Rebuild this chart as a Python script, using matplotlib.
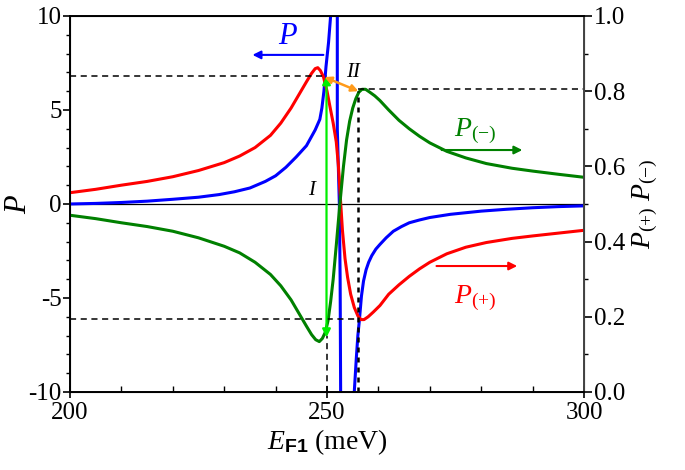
import numpy as np
import matplotlib.pyplot as plt
from matplotlib.ticker import MultipleLocator, FuncFormatter

plt.rcParams['font.family'] = ['Liberation Serif', 'DejaVu Serif']
plt.rcParams['mathtext.fontset'] = 'custom'
plt.rcParams['mathtext.rm'] = 'Liberation Serif'
plt.rcParams['mathtext.it'] = 'Liberation Serif:italic'
plt.rcParams['mathtext.sf'] = 'Liberation Sans:bold'

# P (left axis); values beyond +-10 are clipped by the axes
p_x = [200, 205, 210, 215, 220, 225, 229, 232, 235, 238, 240, 242, 244, 246, 247.7,
       248.6, 249.0, 249.4, 249.8, 250.3, 250.7, 250.9,
       251.9, 252.0, 252.0, 252.4, 252.55, 252.65, 252.7,
       255.1, 255.3, 255.7, 256.0, 256.3, 256.7, 257.1, 257.6, 258.1, 258.7, 259.5,
       260.3, 261.5, 262.9, 264.5, 266, 268, 270, 274, 280, 285, 290, 295, 300]
p_y = [0.0, 0.03, 0.08, 0.15, 0.25, 0.36, 0.5, 0.65, 0.85, 1.2, 1.5, 1.95, 2.5, 3.1, 3.94,
       4.5, 5.1, 6.0, 7.3, 8.6, 10.0, 12,
       12, 10.0, 4.0, 0.0, -4.0, -10.0, -12,
       -12, -10.0, -8.2, -7.0, -6.17, -4.9, -4.1, -3.5, -3.1, -2.75, -2.4,
       -2.15, -1.8, -1.45, -1.2, -1.0, -0.85, -0.72, -0.55, -0.38, -0.28, -0.2, -0.14, -0.1]

# P(+) (right axis)
pp_x = [200, 205, 210, 215, 220, 225, 230, 233, 236, 239, 241, 243, 244.5, 246, 247,
        247.7, 248.2, 248.7, 249.3, 250.0, 250.6, 251.2, 251.8, 252.2, 252.6, 253.0,
        253.5, 254.0, 254.6, 255.3, 256.0, 256.6, 257.2, 258.0, 259.0, 260.3, 262, 264,
        266, 268, 270, 273.3, 277, 281, 286, 290, 295, 300]
pp_y = [0.530, 0.539, 0.550, 0.560, 0.5725, 0.589, 0.610, 0.6275, 0.650, 0.6825, 0.715,
        0.755, 0.790, 0.825, 0.8475, 0.860, 0.8625, 0.855, 0.8385, 0.800, 0.757, 0.715,
        0.665, 0.605, 0.515, 0.430, 0.355, 0.305, 0.260, 0.225, 0.2025, 0.1925, 0.1925,
        0.200, 0.2125, 0.230, 0.260, 0.285, 0.3075, 0.3275, 0.345, 0.3675, 0.385, 0.3975,
        0.4085, 0.415, 0.4225, 0.430]

# P(-) (right axis)
pm_x = [200, 205, 210, 215, 220, 225, 230, 233, 236, 239, 241, 243, 244.5, 246, 247,
        247.8, 248.5, 249.1, 249.7, 250.2, 250.7, 251.2, 251.8, 252.5, 253.2, 253.8,
        254.4, 255.0, 255.6, 256.2, 256.8, 257.5, 258.3, 259.3, 260.3, 262, 264, 266,
        268, 270, 273.3, 277, 281, 286, 290, 295, 300]
pm_y = [0.470, 0.461, 0.450, 0.440, 0.4275, 0.410, 0.3875, 0.370, 0.345, 0.3125, 0.2825,
        0.245, 0.210, 0.175, 0.1525, 0.139, 0.134, 0.1425, 0.160, 0.190, 0.240, 0.300,
        0.390, 0.500, 0.600, 0.670, 0.720, 0.755, 0.780, 0.7975, 0.805, 0.805, 0.7975,
        0.7875, 0.775, 0.750, 0.7225, 0.700, 0.680, 0.6625, 0.640, 0.6225, 0.6075, 0.595,
        0.5875, 0.579, 0.571]

fig = plt.figure(figsize=(6.85, 4.7), dpi=100)
ax = fig.add_axes([0.1022, 0.166, 0.7504, 0.8])
ax2 = ax.twinx()

ax.axhline(0, color='black', lw=0.9, zorder=1)
ax.plot(p_x, p_y, color='#0000ff', lw=2.2, zorder=3, solid_joinstyle='round')
ax2.plot(pp_x, pp_y, color='#ff0000', lw=2.2, solid_joinstyle='round')
ax2.plot(pm_x, pm_y, color='#008000', lw=2.2, solid_joinstyle='round')

ax.set_xlim(200, 300)
ax.set_ylim(-10, 10)
ax2.set_ylim(0, 1.0)

# guide lines (left-axis units)
dkw = dict(color='black', lw=1.1, ls=(0, (4, 3)), transform=ax.transData, zorder=2)
ax2.plot([200, 249.9], [6.8, 6.8], **dkw)
ax2.plot([200, 256.1], [-6.1, -6.1], **dkw)
ax2.plot([256.1, 300], [6.1, 6.1], **dkw)
ax2.plot([249.9, 249.9], [-10, -7.0], **dkw)
ax2.plot([256.1, 256.1], [-10, 6.0], color='black', lw=1.8, ls=(0, (2, 2)),
         transform=ax.transData, zorder=2)

# transitions I and II
ax2.annotate('', xy=(249.9, -7.1), xytext=(249.9, 6.8), xycoords=ax.transData,
             textcoords=ax.transData,
             arrowprops=dict(arrowstyle='<|-|>', color='#00ee00', lw=1.6,
                             mutation_scale=12, shrinkA=0, shrinkB=0))
ax2.annotate('', xy=(256.1, 6.0), xytext=(249.5, 6.75), xycoords=ax.transData,
             textcoords=ax.transData,
             arrowprops=dict(arrowstyle='<|-|>', color='#ff9a1a', lw=1.8,
                             mutation_scale=10, shrinkA=0, shrinkB=0))
ax2.text(247.0, 0.7, 'I', transform=ax.transData, fontsize=15, style='italic',
         ha='center', va='center')
ax2.text(255.0, 7.0, 'II', transform=ax.transData, fontsize=15, style='italic',
         ha='center', va='center')

# curve labels with arrows to their axes
ax2.text(242.5, 8.9, '$P$', transform=ax.transData, fontsize=22, color='#0000ff',
         ha='center', va='center')
ax2.annotate('', xy=(235.5, 7.93), xytext=(249.3, 7.93), xycoords=ax.transData,
             textcoords=ax.transData,
             arrowprops=dict(arrowstyle='-|>', color='#0000ff', lw=1.5,
                             mutation_scale=12, shrinkA=0, shrinkB=0))
ax2.text(278.8, 3.9, '$P_{(-)}$', transform=ax.transData, fontsize=20, color='#008000',
         ha='center', va='center')
ax2.annotate('', xy=(288.0, 2.87), xytext=(272.3, 2.87), xycoords=ax.transData,
             textcoords=ax.transData,
             arrowprops=dict(arrowstyle='-|>', color='#008000', lw=1.5,
                             mutation_scale=12, shrinkA=0, shrinkB=0))
ax2.text(278.8, -5.0, '$P_{(+)}$', transform=ax.transData, fontsize=20, color='#ff0000',
         ha='center', va='center')
ax2.annotate('', xy=(287.0, -3.3), xytext=(271.3, -3.3), xycoords=ax.transData,
             textcoords=ax.transData,
             arrowprops=dict(arrowstyle='-|>', color='#ff0000', lw=1.5,
                             mutation_scale=12, shrinkA=0, shrinkB=0))

# ticks
ax.xaxis.set_major_locator(MultipleLocator(50))
ax.xaxis.set_minor_locator(MultipleLocator(10))
ax.yaxis.set_major_locator(MultipleLocator(5))
ax.yaxis.set_minor_locator(MultipleLocator(1))
ax.yaxis.set_major_formatter(FuncFormatter(lambda v, p: '%d' % v))
ax.tick_params(axis='x', which='major', direction='inout', length=8, width=1.2,
               labelsize=18, top=False)
ax.tick_params(axis='x', which='minor', direction='in', length=4, width=1.0, top=False)
ax.tick_params(axis='y', which='major', direction='out', length=5, width=1.2,
               labelsize=18, pad=1)
ax.tick_params(axis='y', which='minor', direction='out', length=3, width=1.0)
ax2.yaxis.set_major_locator(MultipleLocator(0.2))
ax2.yaxis.set_minor_locator(MultipleLocator(0.1))
ax2.yaxis.set_major_formatter(FuncFormatter(lambda v, p: '%.1f' % v))
ax2.tick_params(axis='y', which='major', direction='out', length=6, width=1.2,
                labelsize=18, pad=1)
ax2.tick_params(axis='y', which='minor', direction='out', length=3, width=1.0)

for sp in ax2.spines.values():
    sp.set_linewidth(1.4)
ax2.spines['right'].set_color('#444444')

ax.set_xlabel(r'$E_{\mathsf{F1}}$ (meV)', fontsize=20, labelpad=2)
ax.set_ylabel('$P$', fontsize=22, labelpad=-3)
ax2.set_ylabel(r'$P_{(+)}\ P_{(-)}$', fontsize=20, labelpad=4)

fig.savefig('out.png', dpi=100)
